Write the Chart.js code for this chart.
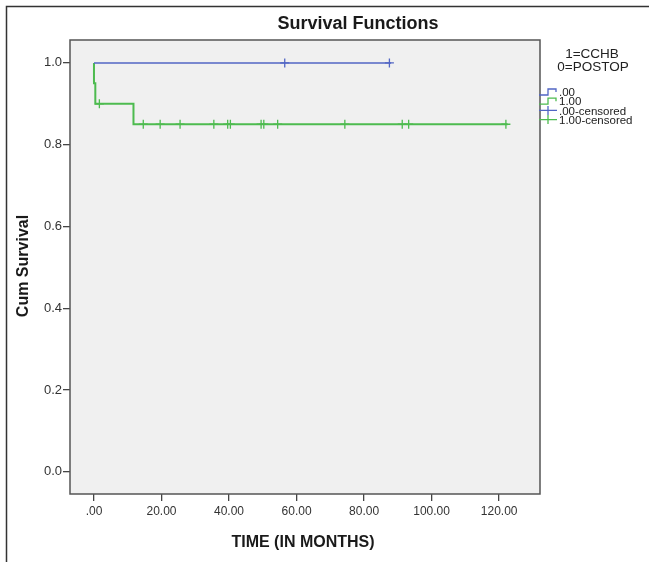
<!DOCTYPE html>
<html>
<head>
<meta charset="utf-8">
<script src="https://cdn.jsdelivr.net/npm/chart.js@4/dist/chart.umd.min.js"></script>
<style>
  html, body { margin: 0; padding: 0; background: #fff; }
  #wrap { position: relative; width: 649px; height: 562px; }
</style>
</head>
<body>
<div id="wrap"><canvas id="km" width="649" height="562"></canvas></div>
<script>
// values
const xTicks = [0, 20, 40, 60, 80, 100, 120];
const yTicks = [0, 0.2, 0.4, 0.6, 0.8, 1.0];

// .00 group (POSTOP)
const postopTimes = [0, 88];
const postopSurv = [1, 1];
const postopCensTimes = [56.5, 87.5];
const postopCensSurv = [1, 1];

// 1.00 group (CCHB)
const cchbTimes = [0, 0, 0.4, 11.7, 122.5];
const cchbSurv = [1, 0.95, 0.9, 0.85, 0.85];
const cchbCensTimes = [1.6, 14.6, 19.6, 25.5, 35.5, 39.6, 40.4, 49.5, 50.3, 54.4, 74.3, 91.3, 93.2, 122];
const cchbCensSurv = [0.9, 0.85, 0.85, 0.85, 0.85, 0.85, 0.85, 0.85, 0.85, 0.85, 0.85, 0.85, 0.85, 0.85];

const legendTitle = ['1=CCHB', '0=POSTOP'];
const legendLabels = ['.00', '1.00', '.00-censored', '1.00-censored'];

const BLUE = '#5266c4';
const GREEN = '#4dbb4f';
const FONT = 'Arial, "Liberation Sans", sans-serif';

const pts = (xs, ys) => xs.map((x, i) => ({ x: x, y: ys[i] }));

const frame = {
  id: 'frame',
  beforeDraw(c) {
    const ctx = c.ctx, a = c.chartArea;
    ctx.save();
    ctx.fillStyle = '#fff';
    ctx.fillRect(0, 0, c.width, c.height);
    ctx.fillStyle = '#f0f0f0';
    ctx.fillRect(a.left, a.top, a.right - a.left, a.bottom - a.top);
    ctx.restore();
  },
  afterDraw(c) {
    const ctx = c.ctx, a = c.chartArea;
    ctx.save();
    // plot box
    ctx.strokeStyle = '#555';
    ctx.lineWidth = 1.5;
    ctx.strokeRect(a.left, a.top, a.right - a.left, a.bottom - a.top);
    // outer frame (top and left only, picture is cut on the right)
    ctx.strokeStyle = '#333';
    ctx.lineWidth = 1.5;
    ctx.beginPath();
    ctx.moveTo(6.5, c.height);
    ctx.lineTo(6.5, 6.5);
    ctx.lineTo(c.width, 6.5);
    ctx.stroke();

    ctx.fillStyle = '#1a1a1a';
    ctx.textAlign = 'center';
    ctx.textBaseline = 'middle';
    ctx.font = 'bold 18px ' + FONT;
    ctx.fillText('Survival Functions', 358, 24);
    ctx.font = 'bold 16px ' + FONT;
    ctx.fillText('TIME (IN MONTHS)', 303, 543);
    ctx.save();
    ctx.translate(24, 266);
    ctx.rotate(-Math.PI / 2);
    ctx.fillText('Cum Survival', 0, 0);
    ctx.restore();

    // legend
    ctx.font = '13.5px ' + FONT;
    ctx.fillStyle = '#222';
    ctx.fillText(legendTitle[0], 592, 54);
    ctx.fillText(legendTitle[1], 593, 67);
    ctx.textAlign = 'left';
    ctx.font = '11.5px ' + FONT;
    const cols = [BLUE, GREEN, BLUE, GREEN];
    legendLabels.forEach((lab, i) => {
      const y = 92 + i * 9.2;
      const x0 = 539;
      ctx.strokeStyle = cols[i];
      ctx.lineWidth = 1.3;
      ctx.beginPath();
      if (i < 2) {
        ctx.moveTo(x0, y + 3);
        ctx.lineTo(x0 + 9, y + 3);
        ctx.lineTo(x0 + 9, y - 3);
        ctx.lineTo(x0 + 17, y - 3);
        ctx.lineTo(x0 + 17, y);
      } else {
        ctx.moveTo(x0, y);
        ctx.lineTo(x0 + 18, y);
        ctx.moveTo(x0 + 9, y - 4.5);
        ctx.lineTo(x0 + 9, y + 4.5);
      }
      ctx.stroke();
      ctx.fillText(lab, 559, y + 1);
    });
    ctx.restore();
  }
};

new Chart(document.getElementById('km'), {
  type: 'line',
  data: {
    datasets: [
      { label: '.00', data: pts(postopTimes, postopSurv), borderColor: BLUE, borderWidth: 1.5, stepped: true, pointRadius: 0, fill: false },
      { label: '1.00', data: pts(cchbTimes, cchbSurv), borderColor: GREEN, borderWidth: 2, stepped: true, pointRadius: 0, fill: false },
      { label: '.00-censored', data: pts(postopCensTimes, postopCensSurv), showLine: false, pointStyle: 'cross', pointRadius: 4.5, borderColor: BLUE, borderWidth: 1.3 },
      { label: '1.00-censored', data: pts(cchbCensTimes, cchbCensSurv), showLine: false, pointStyle: 'cross', pointRadius: 4.5, borderColor: GREEN, borderWidth: 1.3 }
    ]
  },
  options: {
    responsive: false,
    animation: false,
    devicePixelRatio: 1,
    layout: { padding: { left: 0, top: 40, right: 109, bottom: 0 } },
    plugins: { legend: { display: false }, tooltip: { enabled: false } },
    scales: {
      x: {
        type: 'linear',
        min: -7.1,
        max: 132.1,
        afterBuildTicks: s => { s.ticks = xTicks.map(v => ({ value: v })); },
        afterFit: s => { s.height = 68; },
        ticks: {
          color: '#333',
          font: { size: 12, family: FONT },
          padding: 3,
          maxRotation: 0,
          autoSkip: false,
          callback: v => v === 0 ? '.00' : v.toFixed(2)
        },
        grid: { drawOnChartArea: false, drawTicks: true, tickLength: 7, color: '#444', lineWidth: 1.3 },
        border: { display: false }
      },
      y: {
        min: -0.054,
        max: 1.056,
        afterBuildTicks: s => { s.ticks = yTicks.map(v => ({ value: v })); },
        afterFit: s => { s.width = 70; },
        ticks: {
          color: '#333',
          font: { size: 13, family: FONT },
          padding: 1,
          autoSkip: false,
          callback: v => v.toFixed(1)
        },
        grid: { drawOnChartArea: false, drawTicks: true, tickLength: 7, color: '#444', lineWidth: 1.3 },
        border: { display: false }
      }
    }
  },
  plugins: [frame]
});
</script>
</body>
</html>
